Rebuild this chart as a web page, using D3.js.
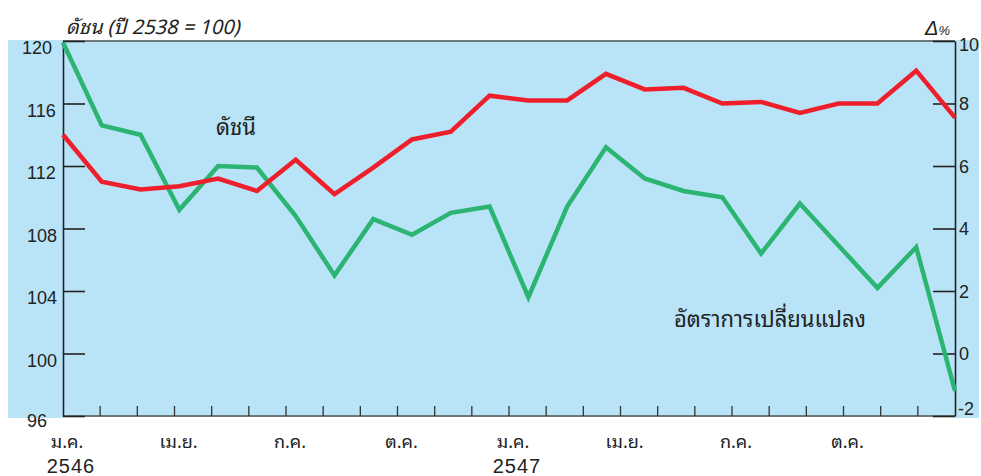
<!DOCTYPE html>
<html>
<head>
<meta charset="utf-8">
<script src="https://cdn.jsdelivr.net/npm/d3@7/dist/d3.min.js"></script>
<style>
body{margin:0;background:#fff;}
svg{display:block;font-family:"Liberation Sans",Arial,sans-serif;}
.thai{font-family:"Noto Sans Thai Looped","Loma","Garuda","Noto Sans Thai","Noto Sans","DejaVu Sans",sans-serif;}
</style>
</head>
<body>
<div class="chart"></div>
<script>
// ข้อมูลรายเดือน ม.ค. 2546 - ธ.ค. 2547
var monthNames = ["ม.ค.","ก.พ.","มี.ค.","เม.ย.","พ.ค.","มิ.ย.","ก.ค.","ส.ค.","ก.ย.","ต.ค.","พ.ย.","ธ.ค."];
var years = ["2546","2547"];
var indexValues = [114.0,111.0,110.5,110.7,111.2,110.4,112.4,110.2,111.9,113.7,114.2,116.5,
                   116.2,116.2,117.9,116.9,117.0,116.0,116.1,115.4,116.0,116.0,118.1,115.1];
var changeValues = [9.95,7.3,7.0,4.6,6.0,5.95,4.4,2.5,4.3,3.8,4.5,4.7,
                    1.8,4.7,6.6,5.6,5.2,5.0,3.2,4.8,3.45,2.1,3.4,-1.2];
var leftTicks = [96,100,104,108,112,116,120];
var rightTicks = [-2,0,2,4,6,8,10];
var tickMonthLabels = ["ม.ค.","เม.ย.","ก.ค.","ต.ค.","ม.ค.","เม.ย.","ก.ค.","ต.ค."];
var tickMonthPos = [0,3,6,9,12,15,18,21];
var yearLabels = ["2546","2547"];
var yearPos = [0,12];
var tickCount = 24; // ขีดแกน x (25 ขีด)

drawChart();

function drawChart(){
  var months = [];
  years.forEach(function(y){ monthNames.forEach(function(m){ months.push(m+" "+y); }); });

  var w = 981, h = 476;
  var pLeft = 63, pRight = 955, pTop = 41, pBottom = 416;

  var svg = d3.select(".chart").append("svg")
    .attr("width", w).attr("height", h);

  // พื้นหลังสีฟ้า
  svg.append("rect").attr("x",8).attr("y",40).attr("width",971).attr("height",378).attr("fill","#b9e4f8");
  svg.append("rect").attr("x",pLeft).attr("y",pBottom+1).attr("width",pRight-pLeft).attr("height",2).attr("fill","#fff");

  var x = d3.scalePoint().domain(months).range([pLeft,pRight]);
  var xTick = d3.scaleLinear().domain([0,tickCount]).range([pLeft,pRight]);
  var yL = d3.scaleLinear().domain([96,120]).range([pBottom,pTop]);
  var yR = d3.scaleLinear().domain([-2,10]).range([pBottom,pTop]);

  // กรอบบน/ล่าง
  svg.append("line").attr("x1",pLeft).attr("x2",pRight).attr("y1",pTop).attr("y2",pTop)
    .attr("stroke","#555").attr("stroke-width",1.5);
  svg.append("line").attr("x1",pLeft).attr("x2",pRight).attr("y1",pBottom).attr("y2",pBottom)
    .attr("stroke","#555").attr("stroke-width",1.5);

  // ขีดแกน x
  svg.append("g").selectAll("line")
    .data(d3.range(1,tickCount))
    .enter().append("line")
    .attr("x1",function(d){return xTick(d);}).attr("x2",function(d){return xTick(d);})
    .attr("y1",pBottom).attr("y2",pBottom-10)
    .attr("stroke","#333").attr("stroke-width",1.3);

  // แกนซ้าย
  var gL = svg.append("g").attr("transform","translate("+pLeft+",0)")
    .call(d3.axisLeft(yL).tickValues(leftTicks).tickSize(-22).tickSizeOuter(0));
  gL.select(".domain").attr("stroke","#222").attr("stroke-width",1.6);
  gL.selectAll(".tick line").attr("stroke","#222").attr("stroke-width",1.6);
  gL.selectAll(".tick text")
    .attr("x",function(d){return d==120 ? -41 : -36;})
    .attr("dy",function(d){return d==96 ? "0.6em" : "0.7em";})
    .attr("text-anchor","start")
    .attr("font-size",18).attr("font-family","Liberation Sans, Arial, sans-serif").attr("fill","#222");

  // แกนขวา
  var gR = svg.append("g").attr("transform","translate("+pRight+",0)")
    .call(d3.axisRight(yR).tickValues(rightTicks).tickSize(-22).tickSizeOuter(0)
      .tickFormat(function(d){return String(d);}));
  gR.select(".domain").attr("stroke","#222").attr("stroke-width",1.6);
  gR.selectAll(".tick line").attr("stroke","#222").attr("stroke-width",1.6);
  gR.selectAll(".tick text")
    .attr("x",function(d){return d<0 ? 3 : 4;})
    .attr("dy",function(d){return d==10 ? "0.5em" : (d==-2 ? "-0.08em" : "0.34em");})
    .attr("font-size",18).attr("font-family","Liberation Sans, Arial, sans-serif").attr("fill","#222");

  // ป้ายเดือน
  svg.append("g").selectAll("text")
    .data(tickMonthLabels)
    .enter().append("text")
    .attr("class","thai")
    .attr("x",function(d,i){return xTick(tickMonthPos[i])+4;})
    .attr("y",448)
    .attr("text-anchor","middle")
    .attr("font-size",18).attr("fill","#222")
    .text(function(d){return d;});
  svg.append("g").selectAll("text")
    .data(yearLabels)
    .enter().append("text")
    .attr("x",function(d,i){return xTick(yearPos[i])+8;})
    .attr("y",473)
    .attr("text-anchor","middle")
    .attr("font-size",20).attr("letter-spacing",1).attr("fill","#222")
    .text(function(d){return d;});

  // เส้นข้อมูล
  var lineL = d3.line().x(function(d,i){return x(months[i]);}).y(function(d){return yL(d);});
  var lineR = d3.line().x(function(d,i){return x(months[i]);}).y(function(d){return yR(d);});

  svg.append("path").datum(changeValues).attr("d",lineR)
    .attr("fill","none").attr("stroke","#2bb472").attr("stroke-width",4.5).attr("stroke-linejoin","miter");
  svg.append("path").datum(indexValues).attr("d",lineL)
    .attr("fill","none").attr("stroke","#ee1f2b").attr("stroke-width",4.5).attr("stroke-linejoin","miter");

  // ชื่อแกนและป้ายเส้น
  svg.append("text").attr("class","thai").attr("x",66).attr("y",34)
    .attr("font-size",20).attr("font-style","italic").attr("fill","#222")
    .text("ดัชน (ปี 2538 = 100)");
  var delta = svg.append("text").attr("x",925).attr("y",35).attr("font-style","italic").attr("fill","#222");
  delta.append("tspan").attr("font-size",20).text("Δ");
  delta.append("tspan").attr("font-size",13).text("%");

  svg.append("text").attr("class","thai").attr("x",216).attr("y",135)
    .attr("font-size",22).attr("fill","#222").text("ดัชนี");
  svg.append("text").attr("class","thai").attr("x",674).attr("y",327)
    .attr("font-size",22).attr("fill","#222").text("อัตราการเปลี่ยนแปลง");
}
</script>
</body>
</html>
